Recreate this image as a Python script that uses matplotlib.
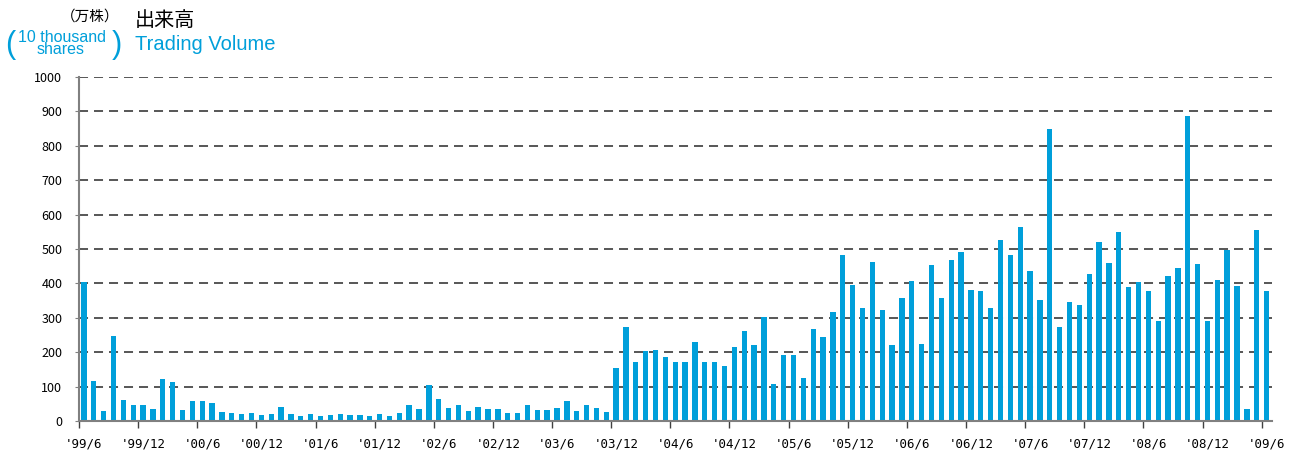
import numpy as np
import matplotlib
matplotlib.use("Agg")
import matplotlib.pyplot as plt

plt.rcParams['font.family'] = ['Noto Sans CJK JP', 'DejaVu Sans']
plt.rcParams['lines.scale_dashes'] = False

# monthly trading volume, '99/6 .. '09/6 (10 thousand shares)
volume = [
    405, 116, 29, 247, 61, 47, 47, 35, 122, 113,
    32, 58, 58, 52, 26, 23, 20, 23, 17, 20,
    41, 19, 14, 19, 14, 16, 19, 16, 16, 14,
    19, 14, 22, 46, 34, 104, 63, 37, 46, 28,
    40, 35, 35, 23, 23, 47, 32, 32, 38, 58,
    29, 47, 38, 26, 154, 273, 172, 203, 206, 186,
    172, 171, 229, 171, 171, 159, 214, 261, 220, 301,
    107, 191, 191, 124, 266, 243, 316, 482, 394, 328,
    461, 322, 220, 359, 406, 223, 453, 359, 467, 490,
    380, 377, 328, 525, 482, 563, 435, 351, 848, 272,
    345, 336, 427, 520, 459, 549, 390, 404, 378, 291,
    422, 445, 887, 456, 291, 410, 497, 392, 35, 555,
    378,
]
tick_labels = ["'99/6", "'99/12", "'00/6", "'00/12", "'01/6", "'01/12",
               "'02/6", "'02/12", "'03/6", "'03/12", "'04/6", "'04/12",
               "'05/6", "'05/12", "'06/6", "'06/12", "'07/6", "'07/12",
               "'08/6", "'08/12", "'09/6"]
y_ticks = list(range(0, 1001, 100))

blue = '#009fda'
months = np.arange(len(volume))

fig = plt.figure(figsize=(12.9, 4.53), dpi=100)
ax = fig.add_axes([79 / 1290, 1 - 421 / 453, 1192.5 / 1290, 344 / 453])

for y in y_ticks[1:]:
    ax.axhline(y, color='#3a3a3a', lw=1.2, ls=(0, (6.5, 4.3)), zorder=1)

ax.bar(months, volume, width=0.54, color=blue, zorder=2)

ax.set_xlim(-0.5, len(volume) - 0.5)
ax.set_ylim(0, 1000)
ax.set_yticks(y_ticks)
ax.set_yticklabels([str(v) for v in y_ticks], fontsize=9)
ax.tick_params(axis='y', length=3, color='#808080', pad=9)

# labels at category centers, tick marks at category boundaries
label_pos = months[::6]
ax.set_xticks(label_pos)
ax.set_xticklabels(tick_labels, fontsize=9, family='DejaVu Sans Mono')
ax.tick_params(axis='x', length=0, pad=12)
ax.set_xticks(label_pos - 0.5, minor=True)
ax.tick_params(axis='x', which='minor', length=5, color='#404040', width=1)

for s in ['top', 'right']:
    ax.spines[s].set_visible(False)
for s in ['left', 'bottom']:
    ax.spines[s].set_color('#808080')
    ax.spines[s].set_linewidth(1.5)

# header
fig.text(90 / 1290, 1 - 17 / 453, '（万株）', fontsize=10.5, ha='center', va='center')
fig.text(135 / 1290, 1 - 20 / 453, '出来高', fontsize=14.5, ha='left', va='center')
fig.text(10 / 1290, 1 - 45 / 453, '(', fontsize=22, color=blue, ha='center', va='center',
         family='Liberation Sans')
fig.text(117 / 1290, 1 - 45 / 453, ')', fontsize=22, color=blue, ha='center', va='center',
         family='Liberation Sans')
fig.text(62 / 1290, 1 - 37 / 453, '10 thousand', fontsize=11.5, color=blue, ha='center',
         va='center', family='Liberation Sans')
fig.text(61 / 1290, 1 - 50 / 453, 'shares', fontsize=11.5, color=blue, ha='center',
         va='center', family='Liberation Sans')
fig.text(135 / 1290, 1 - 45 / 453, 'Trading Volume', fontsize=14.5, color=blue, ha='left',
         va='center', family='Liberation Sans')

fig.savefig('out.png', dpi=100)
